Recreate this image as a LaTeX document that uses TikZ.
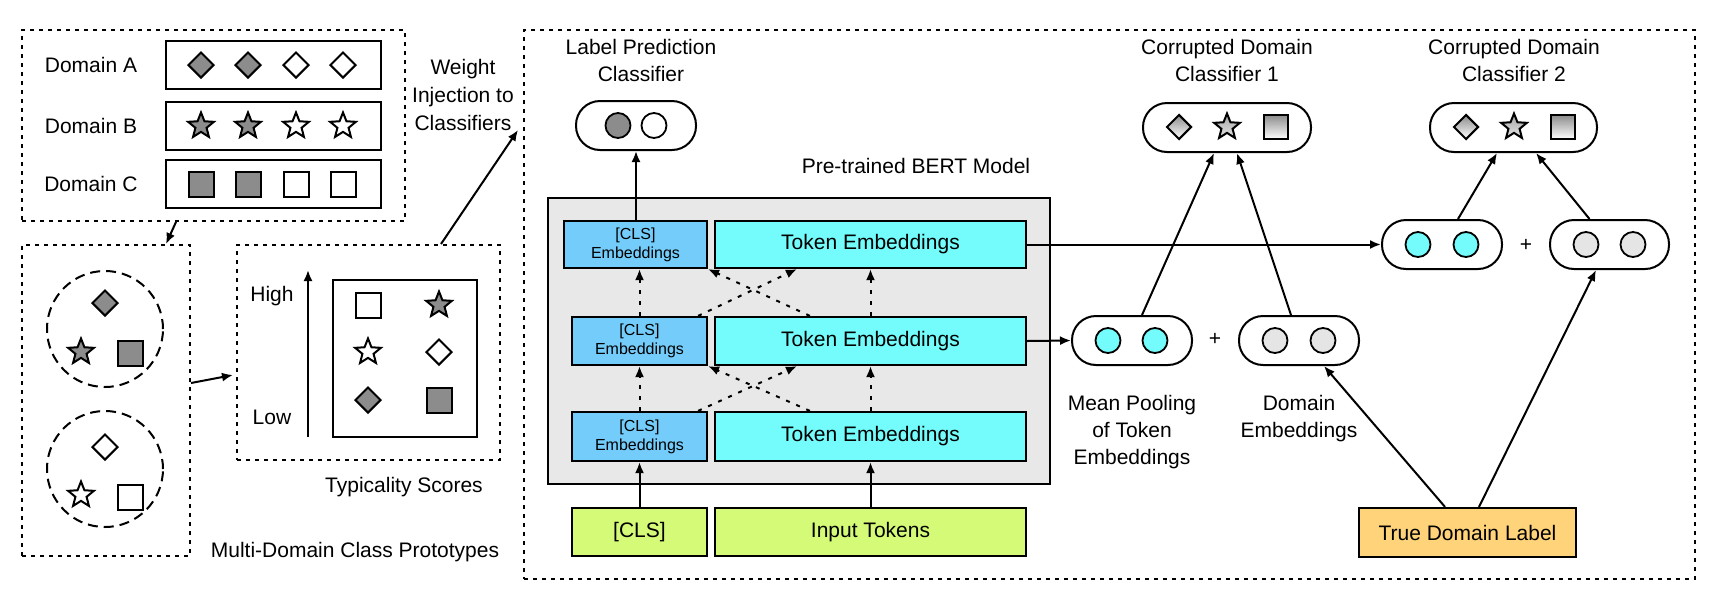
\documentclass[tikz,border=0pt]{standalone}
\usepackage{fontspec}
\setmainfont{Liberation Sans}
\usetikzlibrary{shapes.geometric,arrows.meta,calc}
\definecolor{clsblue}{HTML}{74CCFA}
\definecolor{tokcyan}{HTML}{74FCFC}
\definecolor{bertgray}{HTML}{E8E8E8}
\definecolor{inlime}{HTML}{D4FA78}
\definecolor{truedom}{HTML}{FED37A}
\definecolor{shapegray}{HTML}{8C8C8C}
\definecolor{lightc}{HTML}{E5E5E5}
\tikzset{
  dotbox/.style={draw, line width=2pt, dash pattern=on 4pt off 5pt, inner sep=0},
  box/.style={draw, line width=2.2pt, inner sep=0},
  arr/.style={line width=2pt, -{Latex[length=11pt,width=9pt]}},
  darr/.style={line width=2pt, dash pattern=on 4pt off 7pt, -{Latex[length=11pt,width=9pt]}},
  dia/.style={diamond, draw, line width=2pt, minimum width=26pt, minimum height=26pt, inner sep=0},
  strs/.style={star, star points=5, star point ratio=2.3, draw, line width=2pt, minimum size=27pt, inner sep=0},
  sq/.style={rectangle, draw, line width=2pt, minimum size=25pt, inner sep=0},
  pill/.style={draw, line width=2pt, rounded corners=24pt, minimum width=120pt, minimum height=49pt, inner sep=0},
  dotc/.style={circle, draw, line width=1.8pt, minimum size=25pt, inner sep=0},
  grad/.style={top color=shapegray, bottom color=white},
  txt/.style={font=\fontsize{21}{27}\selectfont, align=center, inner sep=0},
  smtxt/.style={font=\fontsize{16}{19}\selectfont, align=center, inner sep=0},
}
\begin{document}
\begin{tikzpicture}[x=1pt,y=-1pt]
\useasboundingbox (0,0) rectangle (1717,598);

% ---------- left: domains ----------
\node[dotbox, minimum width=383pt, minimum height=191pt] (dom) at (213.5,125.5) {};
\node[txt] (la) at (91,65) {Domain A};
\node[txt] (lb) at (91,126) {Domain B};
\node[txt] (lc) at (91,184) {Domain C};
\node[box, minimum width=215pt, minimum height=48pt] (rowa) at (273.5,65) {};
\node[box, minimum width=215pt, minimum height=48pt] (rowb) at (273.5,126) {};
\node[box, minimum width=215pt, minimum height=48pt] (rowc) at (273.5,184) {};
\foreach \x/\f [count=\i] in {201/shapegray,248/shapegray,296/white,343/white}{
  \node[dia, fill=\f] (ra\i) at (\x,65) {};
  \node[strs, fill=\f] (rb\i) at (\x,126) {};
  \node[sq, fill=\f] (rc\i) at (\x,184) {};
}

% ---------- prototypes ----------
\node[dotbox, minimum width=168pt, minimum height=311pt] (proto) at (106,400.5) {};
\node[circle, draw, line width=2pt, dash pattern=on 10pt off 6pt, minimum size=116pt] (cir1) at (105,329) {};
\node[circle, draw, line width=2pt, dash pattern=on 10pt off 6pt, minimum size=116pt] (cir2) at (105,469) {};
\node[dia, fill=shapegray] (p1a) at (105,303) {};
\node[strs, fill=shapegray] (p1b) at (81,352) {};
\node[sq, fill=shapegray] (p1c) at (130,353) {};
\node[dia, fill=white] (p2a) at (105,447) {};
\node[strs, fill=white] (p2b) at (81,495) {};
\node[sq, fill=white] (p2c) at (130,497) {};
\node[txt] (mdcp) at (355,552) {Multi-Domain Class Prototypes};

% ---------- typicality ----------
\node[dotbox, minimum width=263pt, minimum height=215pt] (typ) at (368.5,352.5) {};
\node[box, line width=2pt, minimum width=144pt, minimum height=157pt] (inner) at (405,358.5) {};
\node[txt] (high) at (272,296) {High};
\node[txt] (low) at (272,417) {Low};
\coordinate (lo) at (308,437);
\coordinate (hi) at (308,270);
\draw[arr] (lo) -- (hi);
\node[sq, fill=white] (t11) at (368,305) {};
\node[strs, fill=shapegray] (t12) at (439,305) {};
\node[strs, fill=white] (t21) at (368,352) {};
\node[dia, fill=white] (t22) at (439,352) {};
\node[dia, fill=shapegray] (t31) at (368,400) {};
\node[sq, fill=shapegray] (t32) at (439,400) {};
\node[txt] (tys) at (404,487) {Typicality Scores};

\node[txt, font=\fontsize{21}{28}\selectfont] (wi) at (463,95) {Weight\\Injection to\\Classifiers};

% ---------- big box ----------
\node[dotbox, minimum width=1171pt, minimum height=549pt] (big) at (1109.5,304.5) {};

% left-side connectors
\draw[arr] ([xshift=155pt]dom.south west) -- ([xshift=145pt]proto.north west);
\draw[arr] ([yshift=17.5pt]proto.east) -- ([xshift=-3pt,yshift=-22.5pt]typ.west);
\draw[arr] ([xshift=72.5pt]typ.north) -- ([xshift=-5pt,yshift=174.5pt]big.west);

% ---------- BERT ----------
\node[txt] (bertl) at (916,166) {Pre-trained BERT Model};
\node[box, fill=bertgray, minimum width=502pt, minimum height=286pt] (bert) at (799,341) {};
\node[box, fill=clsblue, minimum width=143pt, minimum height=47pt, smtxt] (c1) at (635.5,244.5) {[CLS]\\Embeddings};
\node[box, fill=tokcyan, minimum width=311pt, minimum height=47pt, txt] (t1) at (870.5,244.5) {Token Embeddings};
\node[box, fill=clsblue, minimum width=135pt, minimum height=48pt, smtxt] (c2) at (639.5,341) {[CLS]\\Embeddings};
\node[box, fill=tokcyan, minimum width=311pt, minimum height=48pt, txt] (t2) at (870.5,341) {Token Embeddings};
\node[box, fill=clsblue, minimum width=135pt, minimum height=49pt, smtxt] (c3) at (639.5,436.5) {[CLS]\\Embeddings};
\node[box, fill=tokcyan, minimum width=311pt, minimum height=49pt, txt] (t3) at (870.5,436.5) {Token Embeddings};
\node[box, fill=inlime, minimum width=135pt, minimum height=48pt, txt] (inc) at (639.5,532) {[CLS]};
\node[box, fill=inlime, minimum width=311pt, minimum height=48pt, txt] (intok) at (870.5,532) {Input Tokens};

\draw[arr] (inc.north) -- (c3.south);
\draw[arr] (intok.north) -- (t3.south);
\draw[darr] (c3.north) -- (c2.south);
\draw[darr] (t3.north) -- (t2.south);
\draw[darr] (c2.north) -- (c1.south -| c2.north);
\draw[darr] (t2.north) -- (t1.south);
\draw[darr] ([xshift=-10pt]c3.north east) -- ([xshift=83pt]t2.south west);
\draw[darr] ([xshift=96pt]t3.north west) -- (c2.south east);
\draw[darr] ([xshift=-10pt]c2.north east) -- ([xshift=83pt]t1.south west);
\draw[darr] ([xshift=96pt]t2.north west) -- (c1.south east);

% ---------- label prediction ----------
\node[txt] (lpl) at (641,60) {Label Prediction\\Classifier};
\node[pill] (lp) at (636,125.5) {};
\node[dotc, fill=shapegray] (lpa) at (618,125.5) {};
\node[dotc, fill=white] (lpb) at (654,125.5) {};
\draw[arr] (c1.north -| lp.south) -- (lp.south);

% ---------- corrupted domain classifiers ----------
\node[txt] (cd1l) at (1227,60) {Corrupted Domain\\Classifier 1};
\node[txt] (cd2l) at (1514,60) {Corrupted Domain\\Classifier 2};
\node[pill, minimum width=168pt] (cdc1) at (1227,127.5) {};
\node[pill, minimum width=167pt] (cdc2) at (1513.5,127.5) {};
\node[dia, grad, minimum width=25pt, minimum height=25pt] (k1a) at (1179,127) {};
\node[strs, top color=shapegray!80, bottom color=lightc] (k1b) at (1227,127) {};
\node[sq, grad, minimum width=24pt, minimum height=24pt] (k1c) at (1276,127) {};
\node[dia, grad, minimum width=25pt, minimum height=25pt] (k2a) at (1466,127) {};
\node[strs, top color=shapegray!80, bottom color=lightc] (k2b) at (1514,127) {};
\node[sq, grad, minimum width=24pt, minimum height=24pt] (k2c) at (1563,127) {};

% ---------- embedding pills ----------
\node[pill] (pA) at (1442,244.5) {};
\node[dotc, fill=tokcyan] (pA1) at (1418,244.5) {};
\node[dotc, fill=tokcyan] (pA2) at (1466,244.5) {};
\node[txt] (plus1) at (1526,245) {+};
\node[pill, minimum width=119pt] (pB) at (1609.5,244.5) {};
\node[dotc, fill=lightc] (pB1) at (1586,244.5) {};
\node[dotc, fill=lightc] (pB2) at (1633,244.5) {};

\node[pill] (pC) at (1132,340.5) {};
\node[dotc, fill=tokcyan] (pC1) at (1108,340.5) {};
\node[dotc, fill=tokcyan] (pC2) at (1155,340.5) {};
\node[txt] (plus2) at (1215,339) {+};
\node[pill] (pD) at (1299,340.5) {};
\node[dotc, fill=lightc] (pD1) at (1275,340.5) {};
\node[dotc, fill=lightc] (pD2) at (1323,340.5) {};

\node[txt] (mpl) at (1132,432) {Mean Pooling\\of Token\\Embeddings};
\node[txt] (del) at (1299,419) {Domain\\Embeddings};

\node[box, fill=truedom, minimum width=217pt, minimum height=49pt, txt] (tdl) at (1467.5,532.5) {True Domain Label};

% ---------- right connectors ----------
\draw[arr] (t1.east) -- (pA.west);
\draw[arr] (t2.east) -- (pC.west);
\draw[arr] ([xshift=10pt]pC.north) -- ([xshift=-13pt]cdc1.south);
\draw[arr] ([xshift=-8pt]pD.north) -- ([xshift=10pt]cdc1.south);
\draw[arr] ([xshift=16pt]pA.north) -- ([xshift=-16.5pt]cdc2.south);
\draw[arr] ([xshift=-20pt]pB.north) -- ([xshift=22.5pt]cdc2.south);
\draw[arr] ([xshift=-22.5pt]tdl.north) -- ([xshift=25pt]pD.south);
\draw[arr] ([xshift=11.5pt]tdl.north) -- ([xshift=-13.5pt]pB.south);
\end{tikzpicture}
\end{document}
